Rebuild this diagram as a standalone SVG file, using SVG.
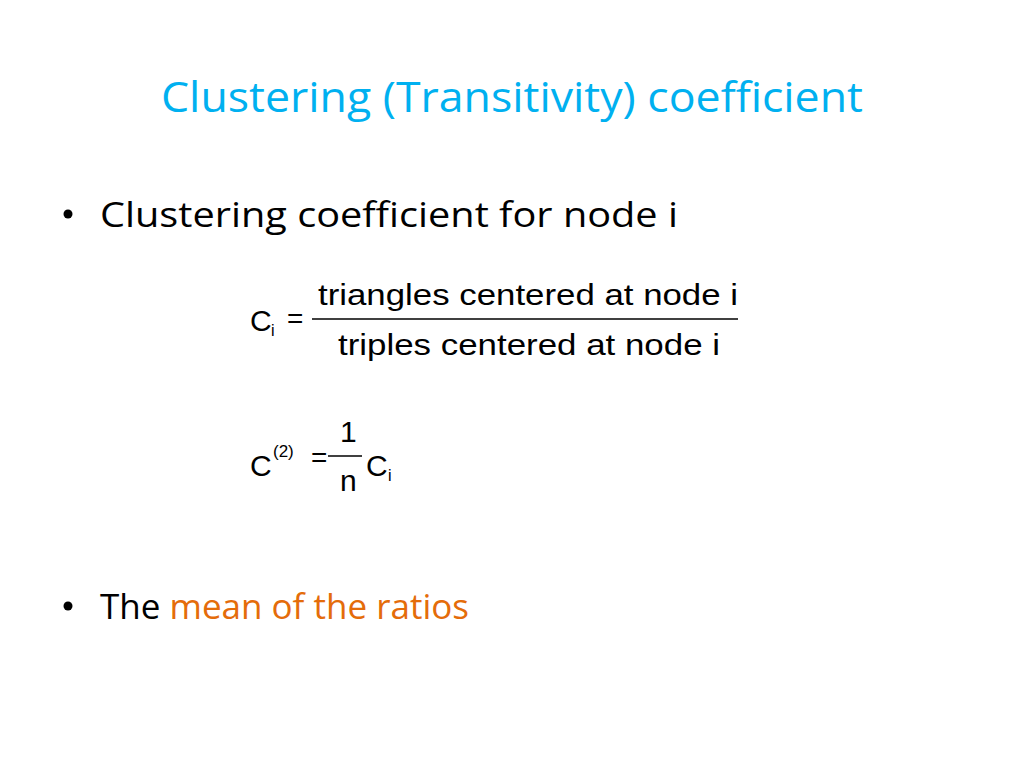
<svg xmlns="http://www.w3.org/2000/svg" width="1024" height="768" viewBox="0 0 1024 768">
<style>
.t{font-family:"Open Sans","Liberation Sans",sans-serif}
.m{font-family:"Liberation Sans",Arial,sans-serif;fill:#000}
</style>
<rect width="1024" height="768" fill="#fff"/>
<g id="title"><text class="t" x="512" y="112" font-size="42" fill="#00B0F0" text-anchor="middle" textLength="702" lengthAdjust="spacingAndGlyphs">Clustering (Transitivity) coefficient</text></g>
<g id="bullet1">
<circle cx="68" cy="214" r="4.5" fill="#000"/>
<text class="t" x="100" y="227" font-size="35" fill="#000" textLength="578" lengthAdjust="spacingAndGlyphs">Clustering coefficient for node i</text>
</g>
<g id="formula1">
<text class="m" x="250" y="331" font-size="30">C</text>
<text class="m" x="271" y="336" font-size="16">i</text>
<text class="m" x="287" y="328" font-size="28">=</text>
<text class="m" x="318" y="305" font-size="30" textLength="420" lengthAdjust="spacingAndGlyphs">triangles centered at node i</text>
<line x1="312" y1="319" x2="738" y2="319" stroke="#000" stroke-width="1.5"/>
<text class="m" x="338" y="355" font-size="30" textLength="382" lengthAdjust="spacingAndGlyphs">triples centered at node i</text>
</g>
<g id="formula2">
<text class="m" x="250" y="476" font-size="30">C</text>
<text class="m" x="273" y="457" font-size="17">(2)</text>
<text class="m" x="311" y="467" font-size="28">=</text>
<text class="m" x="340" y="442" font-size="30">1</text>
<line x1="328" y1="456" x2="362" y2="456" stroke="#000" stroke-width="1.5"/>
<text class="m" x="340" y="491" font-size="30">n</text>
<text class="m" x="366" y="476" font-size="30">C</text>
<text class="m" x="388" y="481" font-size="16">i</text>
</g>
<g id="bullet2">
<circle cx="68" cy="606" r="4.5" fill="#000"/>
<text class="t" x="100" y="619" font-size="35" fill="#000">The <tspan fill="#E46C0A">mean of the ratios</tspan></text>
</g>
</svg>
